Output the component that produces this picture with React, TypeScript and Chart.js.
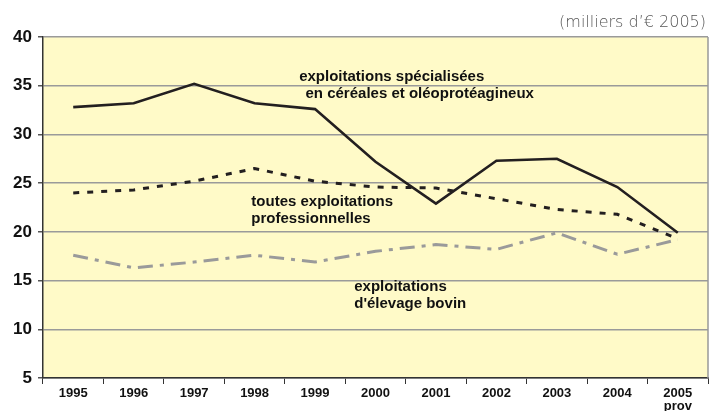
import React, { useEffect, useRef } from "react";
import { Chart, registerables } from "chart.js";

Chart.register(...registerables);

const years = ["1995", "1996", "1997", "1998", "1999", "2000", "2001", "2002", "2003", "2004", ["2005", "prov"]];
const cereales = [32.8, 33.2, 35.2, 33.2, 32.6, 27.2, 22.9, 27.3, 27.5, 24.6, 19.9];
const toutes = [24.0, 24.3, 25.2, 26.5, 25.2, 24.6, 24.5, 23.4, 22.3, 21.8, 19.3];
const bovin = [17.6, 16.3, 16.9, 17.6, 16.9, 18.0, 18.7, 18.2, 19.9, 17.7, 19.2];
const yTicks = [5, 10, 15, 20, 25, 30, 35, 40];
const unitLabel = "(milliers d’€ 2005)";

const FONT = "'Liberation Sans', Arial, sans-serif";

const bgPlugin = {
  id: "bgPlugin",
  beforeDraw(chart: any) {
    const { ctx, chartArea } = chart;
    ctx.save();
    ctx.fillStyle = "#FFFAC8";
    ctx.fillRect(chartArea.left, chartArea.top, chartArea.right - chartArea.left, chartArea.bottom - chartArea.top);
    ctx.restore();
  },
  afterDraw(chart: any) {
    const { ctx, chartArea, scales } = chart;
    const x = scales.x;
    const y = scales.y;
    ctx.save();
    // right border
    ctx.strokeStyle = "#999";
    ctx.lineWidth = 1.5;
    ctx.beginPath();
    ctx.moveTo(chartArea.right, chartArea.top);
    ctx.lineTo(chartArea.right, chartArea.bottom);
    ctx.stroke();
    // unit label
    ctx.fillStyle = "#555";
    ctx.textAlign = "right";
    ctx.textBaseline = "alphabetic";
    ctx.font = `200 16px 'DejaVu Sans', sans-serif`;
    ctx.fillText(unitLabel, chartArea.right - 2, chartArea.top - 10);
    // annotations
    ctx.fillStyle = "#111";
    ctx.font = `bold 15px ${FONT}`;
    ctx.textBaseline = "middle";
    ctx.textAlign = "center";
    const cx = (x.getPixelForValue(5) + x.getPixelForValue(6)) / 2;
    ctx.fillText("exploitations spécialisées", cx - 14, y.getPixelForValue(35.9));
    ctx.fillText("en céréales et oléoprotéagineux", cx + 14, y.getPixelForValue(34.15));
    ctx.textAlign = "left";
    const x2 = (x.getPixelForValue(2) + x.getPixelForValue(3)) / 2 + 27;
    ctx.fillText("toutes exploitations", x2, y.getPixelForValue(23.06));
    ctx.fillText("professionnelles", x2, y.getPixelForValue(21.3));
    const x3 = (x.getPixelForValue(4) + x.getPixelForValue(5)) / 2 + 9;
    ctx.fillText("exploitations", x3, y.getPixelForValue(14.34));
    ctx.fillText("d'élevage bovin", x3, y.getPixelForValue(12.6));
    ctx.restore();
  },
};

export default function App() {
  const ref = useRef<HTMLCanvasElement | null>(null);
  useEffect(() => {
    document.body.style.margin = "0";
    const chart = new Chart(ref.current as HTMLCanvasElement, {
      type: "line",
      data: {
        labels: years as any,
        datasets: [
          {
            label: "céréales",
            data: cereales,
            borderColor: "#231f20",
            borderWidth: 2.6,
            pointRadius: 0,
            tension: 0,
          },
          {
            label: "toutes",
            data: toutes,
            borderColor: "#231f20",
            borderWidth: 3,
            borderDash: [6, 8],
            pointRadius: 0,
            tension: 0,
          },
          {
            label: "bovin",
            data: bovin,
            borderColor: "#9a9a9a",
            borderWidth: 3,
            borderDash: [15, 7, 4, 7],
            pointRadius: 0,
            tension: 0,
          },
        ],
      },
      options: {
        animation: false,
        responsive: false,
        maintainAspectRatio: false,
        layout: { padding: { top: 37, right: 2, left: 0, bottom: 0 } },
        plugins: { legend: { display: false }, tooltip: { enabled: false }, title: { display: false } },
        scales: {
          x: {
            offset: true,
            afterFit(scale: any) {
              scale.height = 33;
            },
            grid: {
              offset: true,
              drawOnChartArea: false,
              drawTicks: true,
              tickLength: 6,
              color: "#333",
              lineWidth: 1,
            },
            border: { color: "#333", width: 1.5 },
            ticks: {
              color: "#111",
              font: { family: FONT, weight: "bold", size: 13, lineHeight: 1.0 },
              padding: 3,
              maxRotation: 0,
              autoSkip: false,
            },
          },
          y: {
            min: 5,
            max: 40,
            afterFit(scale: any) {
              scale.width = 43;
            },
            afterBuildTicks(scale: any) {
              scale.ticks = yTicks.map((v) => ({ value: v }));
            },
            grid: {
              color: "#9a9a9a",
              lineWidth: 1.5,
              tickColor: "#555",
              tickLength: 5,
            },
            border: { color: "#333", width: 1.5 },
            ticks: {
              color: "#111",
              font: { family: FONT, weight: "bold", size: 17 },
              padding: 6,
            },
          },
        },
      },
      plugins: [bgPlugin],
    } as any);
    return () => chart.destroy();
  }, []);
  return (
    <div style={{ position: "absolute", left: 0, top: 0, width: 710, height: 411, background: "#fff" }}>
      <canvas ref={ref} width={710} height={411} style={{ width: 710, height: 411 }} />
    </div>
  );
}
